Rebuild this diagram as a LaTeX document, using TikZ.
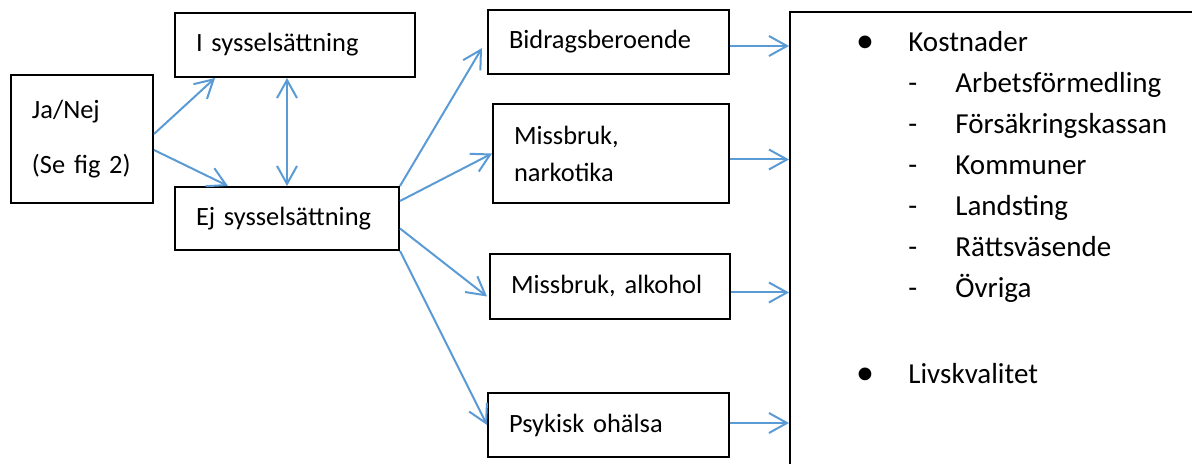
\documentclass[tikz,border=0pt]{standalone}
\usepackage{fontspec}
\setmainfont{Carlito}
\usetikzlibrary{arrows.meta, calc}
\definecolor{arrowblue}{RGB}{91,155,213}

\begin{document}
\begin{tikzpicture}[x=0.5pt, y=-0.5pt,
		every node/.style={font=\fontsize{13.2pt}{20.5pt}\selectfont},
		box/.style 2 args={draw, line width=1pt, anchor=north west, inner xsep=10.5pt, inner ysep=0pt,
			text width=#1, minimum height=#2, align=left},
		item/.style={inner sep=0pt, anchor=base west, font=\fontsize{14.5pt}{20.5pt}\selectfont},
		bullet/.style={inner sep=0pt, anchor=base, font=\fontsize{18pt}{20pt}\selectfont},
		flow/.style={->, draw=arrowblue, line width=1pt},
		>={Straight Barb[length=9pt, width=10pt]}]

	\useasboundingbox (0,0) rectangle (1192,464);
	\clip (0,0) rectangle (1192,464);

	\node[box={50pt}{64pt}] (janej) at (10,74) {Ja/Nej\\[7pt](Se fig 2)};
	\node[box={99pt}{32pt}] (isyss) at (174,12) {I syssels\"attning};
	\node[box={91pt}{31.5pt}] (ejsyss) at (174,186) {Ej syssels\"attning};

	\node[box={99.5pt}{32pt}] (bidrag) at (487,9) {Bidragsberoende};
	\node[box={97pt}{49.5pt}] (narko) at (492,103) {Missbruk,\\[-2pt]narkotika};
	\node[box={99pt}{32.5pt}] (alkohol) at (489,253) {Missbruk, alkohol};
	\node[box={99.5pt}{32pt}] (psyk) at (487,392) {Psykisk oh\"alsa};

	\node[draw, line width=1pt, anchor=north west, minimum width=250pt, minimum height=250pt] (effekter) at (789,11) {};

	% list in the big box
	\node[bullet] (bul1) at (865,53) {•};
	\node[item] (kostnader) at (908,52) {Kostnader};
	\foreach \txt [count=\i] in {Arbetsf\"ormedling, F\"ors\"akringskassan, Kommuner, Landsting, R\"attsv\"asende, \"Ovriga} {
		\node[item] (dash\i) at (908,52+41*\i) {-};
		\node[item] (post\i) at (955,52+41*\i) {\txt};
	}
	\node[bullet] (bul2) at (865,384) {•};
	\node[item] (livskvalitet) at (908,383) {Livskvalitet};

	% arrows
	\draw[flow] ($(janej.east)+(0,-5)$) -- ($(isyss.south west)+(41,0)$);
	\draw[flow] ($(janej.east)+(0,11)$) -- ($(ejsyss.north west)+(54,0)$);
	\draw[flow, <->] (ejsyss.north |- isyss.south) -- (ejsyss.north);

	\draw[flow] (ejsyss.north east) -- ($(bidrag.west)+(-5,6)$);
	\draw[flow] ($(ejsyss.north east)+(0,15)$) -- (narko.west);
	\draw[flow] ($(ejsyss.east)+(0,10)$) -- ($(alkohol.west)+(-2,10)$);
	\draw[flow] (ejsyss.south east) -- (psyk.west);

	\path ($(bidrag.east)+(0,4)$) coordinate (out1);
	\path ($(narko.east)+(0,6)$) coordinate (out2);
	\path ($(alkohol.east)+(0,6)$) coordinate (out3);
	\path ($(psyk.east)+(0,-2)$) coordinate (out4);
	\foreach \k in {1,...,4}
		\draw[flow] (out\k) -- (out\k -| effekter.west);
\end{tikzpicture}
\end{document}
